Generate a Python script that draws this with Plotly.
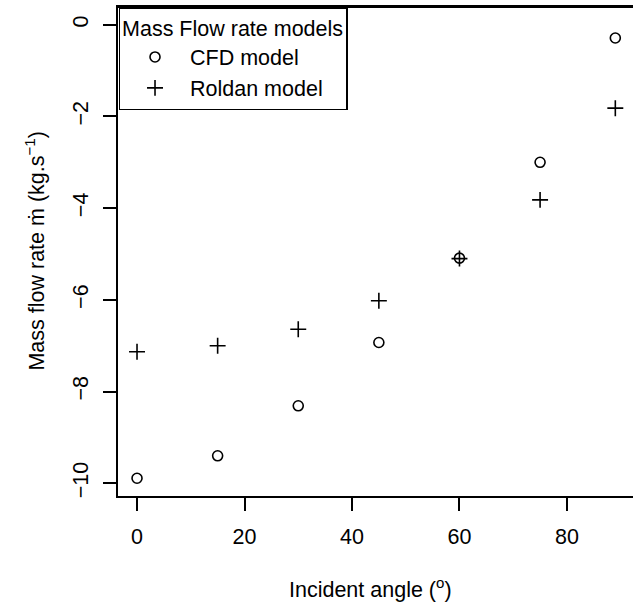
import plotly.graph_objects as go

angles = [0, 15, 30, 45, 60, 75, 89]
cfd_values = [-9.89, -9.40, -8.31, -6.93, -5.09, -3.00, -0.29]
roldan_values = [-7.13, -7.00, -6.64, -6.02, -5.10, -3.82, -1.82]
x_ticks = [0, 20, 40, 60, 80]
y_ticks = [-10, -8, -6, -4, -2, 0]

FONT = "Liberation Sans, Arial, Helvetica, sans-serif"
FS = 21.5

fig = go.Figure()
fig.add_trace(go.Scatter(
    x=angles, y=cfd_values, mode="markers", name="CFD model",
    marker=dict(symbol="circle-open", size=10, color="black",
                line=dict(width=1.6, color="black")),
))
fig.add_trace(go.Scatter(
    x=angles, y=roldan_values, mode="markers", name="Roldan model",
    marker=dict(symbol="cross-thin-open", size=11.4, color="black",
                line=dict(width=1.6, color="black")),
))

fig.update_layout(
    width=633, height=603,
    margin=dict(l=118, r=0, t=7, b=107),
    plot_bgcolor="white", paper_bgcolor="white",
    font=dict(family=FONT, size=FS, color="black"),
    showlegend=True,
    legend=dict(
        x=0.001, y=1, xanchor="left", yanchor="top",
        bordercolor="black", borderwidth=1.5, bgcolor="white",
        font=dict(family=FONT, size=FS, color="black"),
        title=dict(text="Mass Flow rate models", font=dict(family=FONT, size=FS)),
        itemwidth=60, tracegroupgap=0,
        entrywidth=165, entrywidthmode="pixels",
    ),
    xaxis=dict(
        range=[-3.54, 92.29], tickvals=x_ticks, ticktext=[str(v) for v in x_ticks],
        ticks="outside", ticklen=13, tickwidth=1.6, tickcolor="black",
        showline=True, linewidth=1.8, linecolor="black", mirror=True,
        showgrid=False, zeroline=False, ticklabelstandoff=7,
        tickfont=dict(family=FONT, size=FS, color="black"),
    ),
    yaxis=dict(
        range=[-10.277, 0.386], tickvals=y_ticks,
        ticktext=["\u221210", "\u22128", "\u22126", "\u22124", "\u22122", "0"],
        ticks="outside", ticklen=13, tickwidth=1.6, tickcolor="black",
        showline=True, linewidth=1.8, linecolor="black", mirror=False,
        showgrid=False, zeroline=False, tickangle=-90, ticklabelstandoff=7,
        tickfont=dict(family=FONT, size=FS, color="black"),
    ),
    shapes=[
        dict(type="line", xref="paper", yref="paper", x0=0, x1=1, y0=1, y1=1,
             line=dict(color="black", width=2), layer="above"),
    ],
    annotations=[
        dict(text="Incident angle (<sup>o</sup>)", xref="paper", yref="paper",
             x=0.49, y=-0.189, xanchor="center", yanchor="middle",
             showarrow=False, font=dict(family=FONT, size=FS, color="black")),
        dict(text="Mass flow rate \u1e41 (kg.s<sup>\u22121</sup>)", xref="paper", yref="paper",
             x=-0.163, y=0.5, xanchor="center", yanchor="middle", textangle=-90,
             showarrow=False, font=dict(family=FONT, size=FS, color="black")),
    ],
)

html_post = ("var s=document.createElement('style');"
             "s.innerHTML='html,body{margin:0;padding:0;overflow:hidden;}';"
             "document.head.appendChild(s);")
fig.write_html("out.html", config={"displayModeBar": False, "responsive": False},
               post_script=html_post)
